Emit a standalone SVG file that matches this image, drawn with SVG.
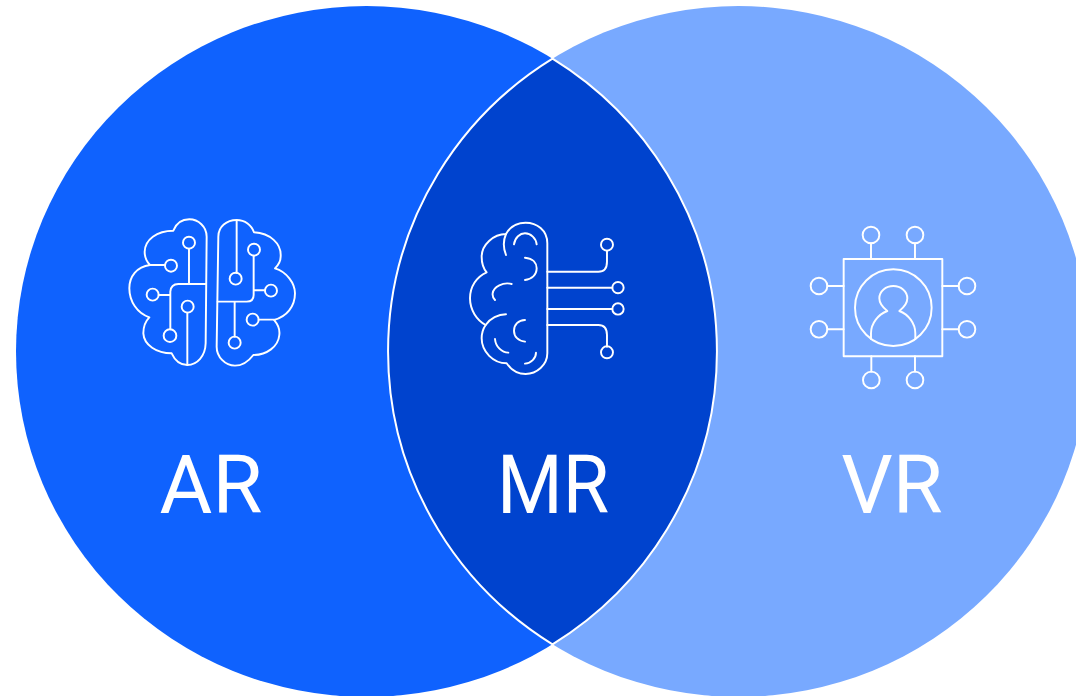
<svg xmlns="http://www.w3.org/2000/svg" width="1076" height="696" viewBox="0 0 1076 696">
<style>
.ln{fill:none;stroke:#fff;stroke-width:5.8;stroke-linecap:round;stroke-linejoin:round}
.lb{font-family:"Roboto","Liberation Sans",sans-serif;font-size:81px;fill:#fff;text-anchor:middle}
</style>
<defs><clipPath id="lc"><ellipse cx="366.5" cy="351.5" rx="350.5" ry="345.5"/></clipPath></defs>
<rect width="1076" height="696" fill="#fff"/>
<g id="circle-vr"><ellipse cx="738.5" cy="351.5" rx="350.5" ry="345.5" fill="#78a9ff"/></g>
<g id="circle-ar"><ellipse cx="366.5" cy="351.5" rx="350.5" ry="345.5" fill="#0f62fe"/></g>
<g id="lens-mr">
<ellipse cx="738.5" cy="351.5" rx="350.5" ry="345.5" fill="#0043ce" clip-path="url(#lc)"/>
<path d="M552.5,58.7A350.5,345.5 0 0 1 552.5,644.3A350.5,345.5 0 0 1 552.5,58.7Z" fill="none" stroke="#fff" stroke-width="2"/>
</g>
<g id="icon-ar" transform="translate(110 200) scale(.3333)">
<path class="ln" d="M290,110C290,80 265,58 238,58C215,58 198,72 190,92C140,92 105,120 104,155C104,170 110,185 120,195C80,200 58,230 58,265C58,305 82,340 118,352C105,365 100,380 100,400C102,435 140,460 185,460C195,482 212,495 232,495C262,495 286,468 287,430Z"/>
<path class="ln" d="M120,195H165M237,146V250M288,252H205Q183,252 181,275V388M146,285H181M232,338V495"/>
<circle class="ln" cx="183" cy="197" r="18"/><circle class="ln" cx="237" cy="128" r="18"/><circle class="ln" cx="180" cy="407" r="19"/><circle class="ln" cx="128" cy="284" r="18"/><circle class="ln" cx="233" cy="320" r="18"/>
<path class="ln" d="M325,110C325,80 350,60 380,60C405,60 425,75 432,97C480,100 515,130 512,170C512,185 505,195 495,205C530,215 555,250 555,280C555,320 530,350 492,360C505,375 510,390 508,405C505,440 470,465 430,465C415,485 395,497 375,497C345,497 320,470 320,440Z"/>
<path class="ln" d="M380,60V218M431,167V285Q431,305 410,305H323M431,271H465M374,305V410M446,359H492"/>
<circle class="ln" cx="377" cy="236" r="18"/><circle class="ln" cx="432" cy="149" r="18"/><circle class="ln" cx="483" cy="272" r="18"/><circle class="ln" cx="374" cy="428" r="18"/><circle class="ln" cx="428" cy="359" r="18"/>
</g>
<g id="icon-mr" transform="translate(455 210) scale(.3333)">
<path class="ln" d="M277,100C277,60 245,38 212,38C185,38 165,50 153,72C115,72 80,105 80,140C80,160 85,175 95,187C65,200 45,230 45,265C45,300 65,330 92,345C85,355 80,370 80,385C80,425 115,460 155,460C170,482 190,492 212,492C245,492 277,465 277,430Z"/>
<path class="ln" d="M153,72C143,95 145,115 153,135M177,103C180,82 195,70 210,70C228,70 243,85 245,103M210,143C235,145 245,160 245,175C245,195 230,208 210,210M170,222C145,215 115,230 113,250C112,258 115,265 120,270M92,345C105,325 130,313 153,313M210,330C190,330 177,345 177,362C177,380 190,393 210,395M120,387C122,410 140,428 160,428M243,428C243,445 228,460 210,461"/>
<path class="ln" d="M277,185H430Q456,185 456,155V122M277,233H472M277,297H472M277,345H430Q456,345 456,375V410"/>
<circle class="ln" cx="456" cy="104" r="18"/><circle class="ln" cx="489" cy="233" r="17"/><circle class="ln" cx="489" cy="297" r="17"/><circle class="ln" cx="456" cy="427" r="18"/>
</g>
<g id="icon-vr" transform="translate(800 215) scale(.3333)">
<rect class="ln" x="131" y="132" width="296" height="292"/>
<circle class="ln" cx="280" cy="278" r="115"/>
<path class="ln" d="M213,372V355C213,325 235,298 262,288C245,275 238,262 238,250C238,228 258,213 280,213C302,213 322,228 322,250C322,262 315,275 298,288C325,298 346,325 346,355V372"/>
<path class="ln" d="M213,85V132M345,85V132M214,424V470M345,424V470M82,213H131M82,343H131M427,213H476M427,343H476"/>
<circle class="ln" cx="213" cy="60" r="25"/><circle class="ln" cx="345" cy="60" r="25"/><circle class="ln" cx="214" cy="495" r="25"/><circle class="ln" cx="345" cy="495" r="25"/><circle class="ln" cx="57" cy="213" r="25"/><circle class="ln" cx="57" cy="343" r="25"/><circle class="ln" cx="501" cy="213" r="25"/><circle class="ln" cx="501" cy="343" r="25"/>
</g>
<text class="lb" x="211" y="513">AR</text>
<text class="lb" x="553" y="513" textLength="112" lengthAdjust="spacingAndGlyphs">MR</text>
<text class="lb" x="892" y="513">VR</text>
</svg>
